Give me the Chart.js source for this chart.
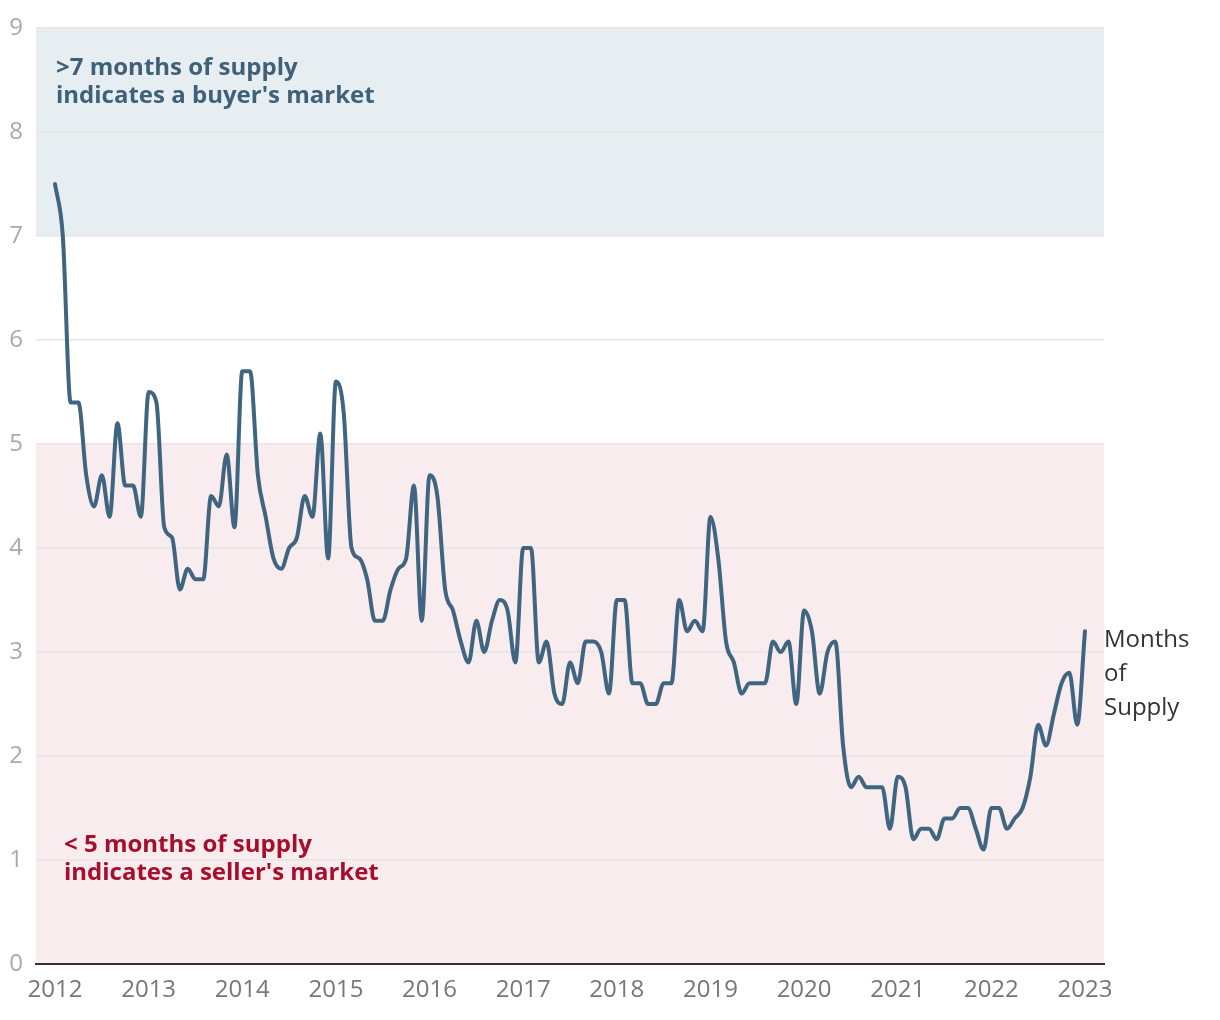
<!DOCTYPE html>
<html>
<head>
<meta charset="utf-8">
<script src="https://cdn.jsdelivr.net/npm/chart.js@4/dist/chart.umd.min.js"></script>
<style>
  html, body { margin: 0; padding: 0; background: #ffffff; }
  #wrap { width: 1220px; height: 1020px; position: relative; }
  canvas { display: block; }
</style>
</head>
<body>
<div id="wrap"><canvas id="c" width="1220" height="1020"></canvas></div>
<script>
// ---- Data (monthly months-of-supply, Jan 2012 .. Jan 2023) ----
const startYear = 2012;
const supply2012 = [7.5, 7.0, 5.4, 5.4, 4.7, 4.4, 4.7, 4.3, 5.2, 4.6, 4.6, 4.3];
const supply2013 = [5.5, 5.4, 4.2, 4.1, 3.6, 3.8, 3.7, 3.7, 4.5, 4.4, 4.9, 4.2];
const supply2014 = [5.7, 5.7, 4.7, 4.3, 3.9, 3.8, 4.0, 4.1, 4.5, 4.3, 5.1, 3.9];
const supply2015 = [5.6, 5.3, 4.0, 3.9, 3.7, 3.3, 3.3, 3.6, 3.8, 3.9, 4.6, 3.3];
const supply2016 = [4.7, 4.5, 3.6, 3.4, 3.1, 2.9, 3.3, 3.0, 3.3, 3.5, 3.4, 2.9];
const supply2017 = [4.0, 4.0, 2.9, 3.1, 2.6, 2.5, 2.9, 2.7, 3.1, 3.1, 3.0, 2.6];
const supply2018 = [3.5, 3.5, 2.7, 2.7, 2.5, 2.5, 2.7, 2.7, 3.5, 3.2, 3.3, 3.2];
const supply2019 = [4.3, 3.9, 3.1, 2.9, 2.6, 2.7, 2.7, 2.7, 3.1, 3.0, 3.1, 2.5];
const supply2020 = [3.4, 3.2, 2.6, 3.0, 3.1, 2.1, 1.7, 1.8, 1.7, 1.7, 1.7, 1.3];
const supply2021 = [1.8, 1.7, 1.2, 1.3, 1.3, 1.2, 1.4, 1.4, 1.5, 1.5, 1.3, 1.1];
const supply2022 = [1.5, 1.5, 1.3, 1.4, 1.5, 1.8, 2.3, 2.1, 2.4, 2.7, 2.8, 2.3];
const supply2023 = [3.2];
const yearTicks = [2012, 2013, 2014, 2015, 2016, 2017, 2018, 2019, 2020, 2021, 2022, 2023];
const yTicks = [0, 1, 2, 3, 4, 5, 6, 7, 8, 9];
const seriesName = ["Months", "of", "Supply"];
const buyerText = [">7 months of supply", "indicates a buyer's market"];
const sellerText = ["< 5 months of supply", "indicates a seller's market"];
const buyerBand = [7, 9];
const sellerBand = [0, 5];

const allValues = [].concat(supply2012, supply2013, supply2014, supply2015, supply2016,
  supply2017, supply2018, supply2019, supply2020, supply2021, supply2022, supply2023);
const points = allValues.map((v, i) => ({ x: startYear + i / 12, y: v }));

const FONT = '"Open Sans", "Noto Sans", sans-serif';

const bandsPlugin = {
  id: 'bands',
  beforeDraw(chart) {
    const { ctx, chartArea, scales } = chart;
    const y = scales.y;
    ctx.save();
    ctx.fillStyle = '#e7eef2';
    let t = y.getPixelForValue(buyerBand[1]), b = y.getPixelForValue(buyerBand[0]);
    ctx.fillRect(chartArea.left, t, chartArea.right - chartArea.left, b - t);
    ctx.fillStyle = '#f8ecee';
    t = y.getPixelForValue(sellerBand[1]); b = y.getPixelForValue(sellerBand[0]);
    ctx.fillRect(chartArea.left, t, chartArea.right - chartArea.left, b - t);
    ctx.restore();
  },
  afterDraw(chart) {
    const { ctx, chartArea, scales } = chart;
    ctx.save();
    ctx.textBaseline = 'alphabetic';
    ctx.textAlign = 'left';
    ctx.font = 'bold 24px ' + FONT;
    ctx.fillStyle = '#3f6079';
    buyerText.forEach((s, i) => ctx.fillText(s, chartArea.left + 20, chartArea.top + 47 + i * 28));
    ctx.fillStyle = '#a50f2c';
    sellerText.forEach((s, i) => ctx.fillText(s, chartArea.left + 28, chartArea.bottom - 112 + i * 28));
    // series label at end of line
    const lastY = scales.y.getPixelForValue(allValues[allValues.length - 1]);
    ctx.font = '24px ' + FONT;
    ctx.fillStyle = '#333333';
    ctx.textBaseline = 'middle';
    seriesName.forEach((s, i) => ctx.fillText(s, chartArea.right, lastY + 9 + i * 34));
    ctx.restore();
  }
};

function build() {
  new Chart(document.getElementById('c'), {
    type: 'line',
    data: {
      datasets: [{
        label: 'Months of Supply',
        data: points,
        borderColor: '#3f6580',
        borderWidth: 4,
        pointRadius: 0,
        fill: false,
        cubicInterpolationMode: 'monotone',
        borderCapStyle: 'round',
        borderJoinStyle: 'round'
      }]
    },
    options: {
      responsive: false,
      animation: false,
      layout: { padding: { top: 28, right: 116, bottom: 0, left: 0 } },
      plugins: { legend: { display: false }, tooltip: { enabled: false } },
      scales: {
        x: {
          type: 'linear',
          min: startYear - 0.203,
          max: 2023.203,
          afterBuildTicks(scale) { scale.ticks = yearTicks.map(v => ({ value: v })); },
          afterFit(scale) { scale.height = 56; },
          ticks: {
            color: '#777777',
            font: { family: FONT, size: 24 },
            padding: 12,
            maxRotation: 0,
            autoSkip: false,
            callback: v => String(v)
          },
          grid: { display: false, drawTicks: false },
          border: { display: true, color: '#333333', width: 2 }
        },
        y: {
          min: 0,
          max: 9,
          afterBuildTicks(scale) { scale.ticks = yTicks.map(v => ({ value: v })); },
          afterFit(scale) { scale.width = 36; },
          ticks: {
            color: '#aaaaaa',
            font: { family: FONT, size: 24 },
            padding: 13,
            callback: v => String(v)
          },
          grid: { color: '#e6e6e6', lineWidth: 1.5, drawTicks: false },
          border: { display: false }
        }
      }
    },
    plugins: [bandsPlugin]
  });
}

Promise.all([
  document.fonts.load('24px "Open Sans"'),
  document.fonts.load('bold 24px "Open Sans"')
]).then(build, build);
</script>
</body>
</html>
